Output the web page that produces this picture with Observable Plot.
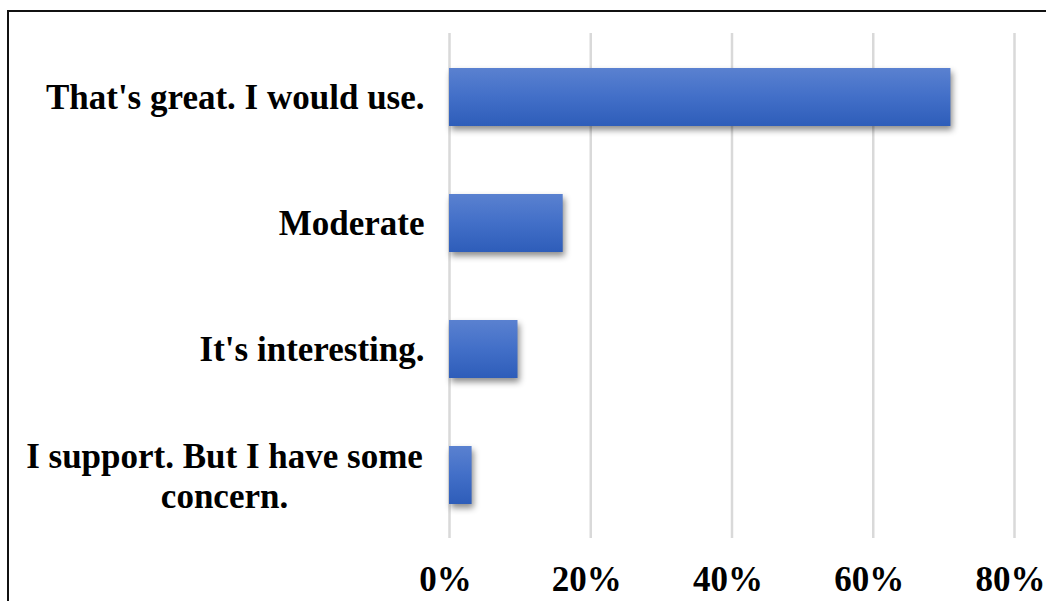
<!DOCTYPE html>
<html><head><meta charset="utf-8">
<script src="https://cdn.jsdelivr.net/npm/d3@7"></script>
<script src="https://cdn.jsdelivr.net/npm/@observablehq/plot@0.6"></script>
<style>
html,body{margin:0;padding:0;background:#fff;overflow:hidden}
#chart{position:absolute;left:0;top:0}
#frame{position:absolute;left:7px;top:10px;width:1100px;height:700px;border-left:2px solid #111;border-top:2px solid #111;pointer-events:none}
</style></head><body>
<div id="chart"></div><div id="frame"></div>
<script>
const categories = ["That's great. I would use.", "Moderate", "It's interesting.", "I support. But I have some concern."];
const shares = [71.0, 16.1, 9.7, 3.2];
const xTicks = [0, 20, 40, 60, 80];
const wrappedLabels = {"I support. But I have some concern.": "I support. But I have some\nconcern."};

const data = categories.map((c, i) => ({category: c, value: shares[i]}));
const font = "'Liberation Serif', 'Times New Roman', serif";

const plot = Plot.plot({
  width: 1046,
  height: 601,
  marginLeft: 449,
  marginRight: 32,
  marginTop: 33,
  marginBottom: 63,
  style: {fontFamily: font, fontSize: "35px", fontWeight: "bold", color: "#000", background: "transparent"},
  x: {domain: [0, 80], axis: null},
  y: {domain: categories, paddingInner: 0.54, paddingOuter: 0.27, axis: null},
  marks: [
    Plot.ruleX(xTicks, {stroke: "#d9d9d9", strokeWidth: 2.5}),
    Plot.barX(data, {x: "value", y: "category", fill: "url(#barGrad)"}),
    Plot.axisX(xTicks, {tickSize: 0, tickPadding: 28, dx: -4, tickFormat: d => d + "%", fontSize: 35, fontWeight: "bold", fill: "#000", label: null}),
    Plot.text(data.filter(d => !wrappedLabels[d.category]), {y: "category", text: "category", frameAnchor: "left", dx: -25, textAnchor: "end", fontSize: 35, fontWeight: "bold", fill: "#000"}),
    Plot.text(data.filter(d => wrappedLabels[d.category]), {y: "category", text: d => wrappedLabels[d.category], frameAnchor: "left", dx: -225, textAnchor: "middle", lineHeight: 1.143, fontSize: 35, fontWeight: "bold", fill: "#000"})
  ]
});

const svg = d3.select(plot);
const defs = svg.insert("defs", ":first-child");
const grad = defs.append("linearGradient").attr("id", "barGrad").attr("x1", 0).attr("y1", 0).attr("x2", 0).attr("y2", 1);
grad.append("stop").attr("offset", "0%").attr("stop-color", "#5a81d0");
grad.append("stop").attr("offset", "50%").attr("stop-color", "#426fc8");
grad.append("stop").attr("offset", "100%").attr("stop-color", "#2e5db9");
svg.selectAll("g[aria-label='bar']").style("filter", "drop-shadow(2px 4px 3px rgba(0,0,0,0.45))");

document.getElementById("chart").appendChild(plot);
</script>
</body></html>
